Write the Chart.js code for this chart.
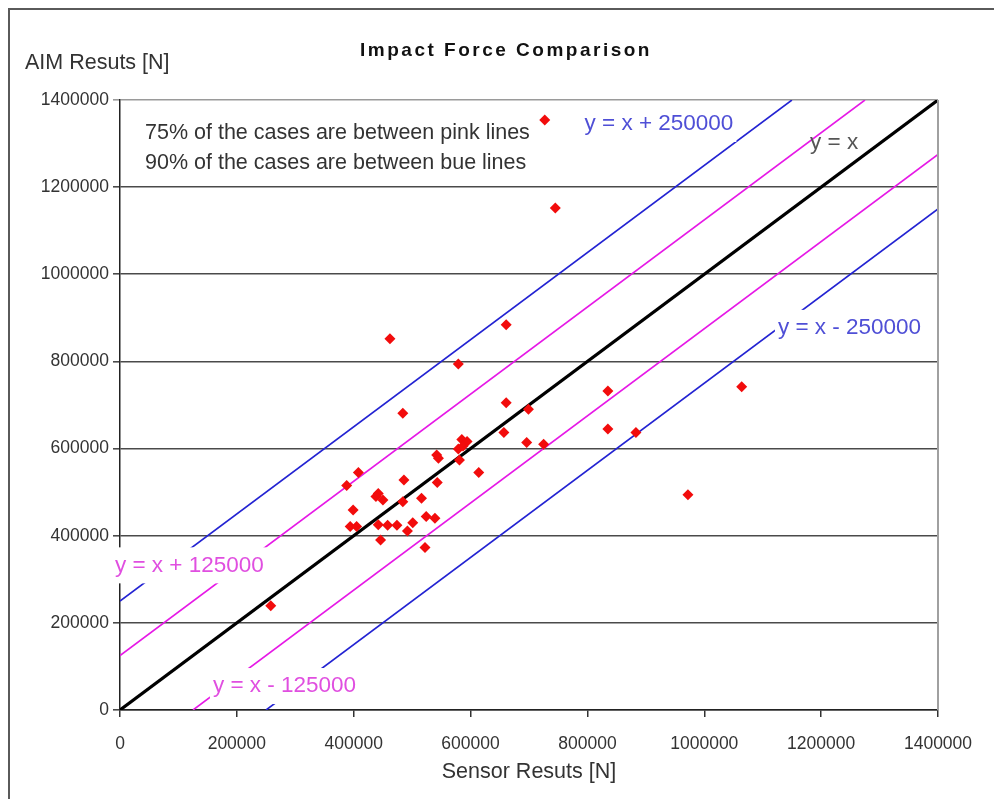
<!DOCTYPE html>
<html>
<head>
<meta charset="utf-8">
<script src="https://cdn.jsdelivr.net/npm/chart.js@4.4.1/dist/chart.umd.min.js"></script>
<style>
  html, body { margin: 0; padding: 0; background: #ffffff; }
  #wrap { position: relative; width: 994px; height: 799px; }
  canvas { display: block; }
</style>
</head>
<body>
<div id="wrap"><canvas id="c" width="994" height="799"></canvas></div>
<script>
// ---- data ----
const sensorResults = [
  462000, 661000, 579000, 484000, 661000, 699000, 835000, 835000, 883000, 657000,
  696000, 725000, 585000, 594000, 579000, 587000, 581000, 542000, 545000, 614000,
  543000, 408000, 388000, 486000, 442000, 438000, 450000, 516000, 484000, 399000,
  524000, 539000, 394000, 405000, 442000, 458000, 474000, 501000, 492000, 446000,
  522000, 727000, 745000, 1064000, 972000, 258000
];
const aimResults = [
  852000, 884000, 794000, 681000, 705000, 690000, 732000, 645000, 637000, 637000,
  614000, 610000, 621000, 616000, 599000, 606000, 574000, 585000, 578000, 545000,
  522000, 545000, 515000, 528000, 497000, 490000, 482000, 486000, 478000, 459000,
  444000, 440000, 421000, 421000, 425000, 424000, 424000, 430000, 411000, 390000,
  373000, 1354000, 1152000, 742000, 494000, 239000
];
const axisTicks = [0, 200000, 400000, 600000, 800000, 1000000, 1200000, 1400000];
const refOffsets = [250000, 125000, 0, -125000, -250000];
const refLabels = ['y = x + 250000', 'y = x + 125000', 'y = x', 'y = x - 125000', 'y = x - 250000'];
const noteLines = ['75% of the cases are between pink lines', '90% of the cases are between bue lines'];

// ---- styling (kept apart from data) ----
const AX_MIN = axisTicks[0], AX_MAX = axisTicks[axisTicks.length - 1];
const FONT = '"Liberation Sans", Arial, sans-serif';
const refColors = ['#2323d2', '#e619e6', '#000000', '#e619e6', '#2323d2'];
const refWidths = [1.6, 1.6, 3.2, 1.6, 1.6];
const labelColors = ['#4f4fd6', '#e04fe0', '#555555', '#e04fe0', '#4f4fd6'];
const labelBoxed = [true, true, false, true, true];
// label anchor positions in data units (left edge, vertical centre)
const labelAnchors = [
  [795000, 1345000], [-8600, 332000], [1181000, 1301000], [159000, 55000], [1126000, 877000]
];
const noteAnchors = [[42800, 1324000], [42800, 1255500]];

function refLine(c) {
  const x0 = Math.max(AX_MIN, AX_MIN - c), x1 = Math.min(AX_MAX, AX_MAX - c);
  return [{x: x0, y: x0 + c}, {x: x1, y: x1 + c}];
}

const datasets = refOffsets.map((c, i) => ({
  type: 'line',
  label: refLabels[i],
  data: refLine(c),
  borderColor: refColors[i],
  borderWidth: refWidths[i],
  pointRadius: 0,
  fill: false,
  tension: 0,
  order: 1
}));
datasets.push({
  type: 'scatter',
  label: 'Cases',
  data: sensorResults.map((x, i) => ({x: x, y: aimResults[i]})),
  backgroundColor: '#f20c0c',
  borderColor: '#f20c0c',
  pointStyle: 'rectRot',
  pointRadius: 5.5,
  borderWidth: 0,
  order: 0
});
const POINTS_INDEX = datasets.length - 1;

function drawBoxedText(ctx, text, x, y, color, font, boxed) {
  ctx.save();
  ctx.font = font;
  const w = ctx.measureText(text).width;
  if (boxed) {
    ctx.fillStyle = '#ffffff';
    ctx.fillRect(x - 3, y - 18, w + 6, 36);
  }
  ctx.fillStyle = color;
  ctx.textAlign = 'left';
  ctx.textBaseline = 'middle';
  ctx.fillText(text, x, y);
  ctx.restore();
}

const decor = {
  id: 'decor',
  beforeDraw(chart) {
    const ctx = chart.ctx;
    ctx.save();
    ctx.fillStyle = '#ffffff';
    ctx.fillRect(0, 0, chart.width, chart.height);
    // outer frame of the chart object
    ctx.strokeStyle = '#5a5a5a';
    ctx.lineWidth = 2;
    ctx.beginPath();
    ctx.moveTo(9, chart.height);
    ctx.lineTo(9, 9);
    ctx.lineTo(chart.width, 9);
    ctx.stroke();
    // title
    ctx.fillStyle = '#111111';
    ctx.font = 'bold 19px ' + FONT;
    ctx.letterSpacing = '2.5px';
    ctx.textAlign = 'center';
    ctx.textBaseline = 'middle';
    ctx.fillText('Impact Force Comparison', 506, 51);
    ctx.letterSpacing = '0px';
    // vertical axis title (horizontal, top-left)
    ctx.fillStyle = '#333333';
    ctx.font = '21.5px ' + FONT;
    ctx.textAlign = 'left';
    ctx.fillText('AIM Resuts [N]', 25, 63);
    ctx.restore();
  },
  afterDraw(chart) {
    const {ctx, chartArea: a} = chart;
    ctx.save();
    ctx.strokeStyle = '#a0a0a0';
    ctx.lineWidth = 2;
    ctx.beginPath();
    ctx.moveTo(a.right, a.top);
    ctx.lineTo(a.right, a.bottom);
    ctx.stroke();
    ctx.restore();
  },
  beforeDatasetDraw(chart, args) {
    if (args.index !== POINTS_INDEX) return;
    const xs = chart.scales.x, ys = chart.scales.y;
    const f = '22.5px ' + FONT;
    refLabels.forEach((t, i) => {
      drawBoxedText(chart.ctx, t, xs.getPixelForValue(labelAnchors[i][0]),
        ys.getPixelForValue(labelAnchors[i][1]), labelColors[i], f, labelBoxed[i]);
    });
    noteLines.forEach((t, i) => {
      drawBoxedText(chart.ctx, t, xs.getPixelForValue(noteAnchors[i][0]),
        ys.getPixelForValue(noteAnchors[i][1]), '#333333', '21.5px ' + FONT, false);
    });
  }
};

const tickFont = {family: FONT, size: 17.5};

new Chart(document.getElementById('c'), {
  type: 'scatter',
  data: {datasets},
  plugins: [decor],
  options: {
    responsive: false,
    animation: false,
    events: [],
    layout: {padding: {left: 0, right: 56, top: 100, bottom: 0}},
    plugins: {legend: {display: false}, tooltip: {enabled: false}, title: {display: false}},
    scales: {
      x: {
        type: 'linear', min: AX_MIN, max: AX_MAX,
        afterBuildTicks(s) { s.ticks = axisTicks.map(v => ({value: v})); },
        ticks: {color: '#333333', font: tickFont, padding: 17, maxRotation: 0,
                callback: v => String(v)},
        grid: {drawOnChartArea: false, drawTicks: true, tickLength: 7, color: '#333333', lineWidth: 1.5},
        border: {display: true, color: '#222222', width: 1.5},
        title: {display: true, text: 'Sensor Resuts [N]', color: '#333333',
                font: {family: FONT, size: 21.5}, padding: {top: 0, bottom: 14}},
        afterFit(s) { s.height = 89; }
      },
      y: {
        type: 'linear', min: AX_MIN, max: AX_MAX,
        afterBuildTicks(s) { s.ticks = axisTicks.map(v => ({value: v})); },
        ticks: {color: '#333333', font: tickFont, padding: 4,
                callback: v => String(v)},
        grid: {drawTicks: true, tickLength: 7, lineWidth: 1.6,
               color: c => (c.tick && c.tick.value === AX_MAX ? '#9a9a9a' : '#4a4a4a')},
        border: {display: true, color: '#222222', width: 1.5},
        afterFit(s) { s.width = 120; }
      }
    }
  }
});
</script>
</body>
</html>
